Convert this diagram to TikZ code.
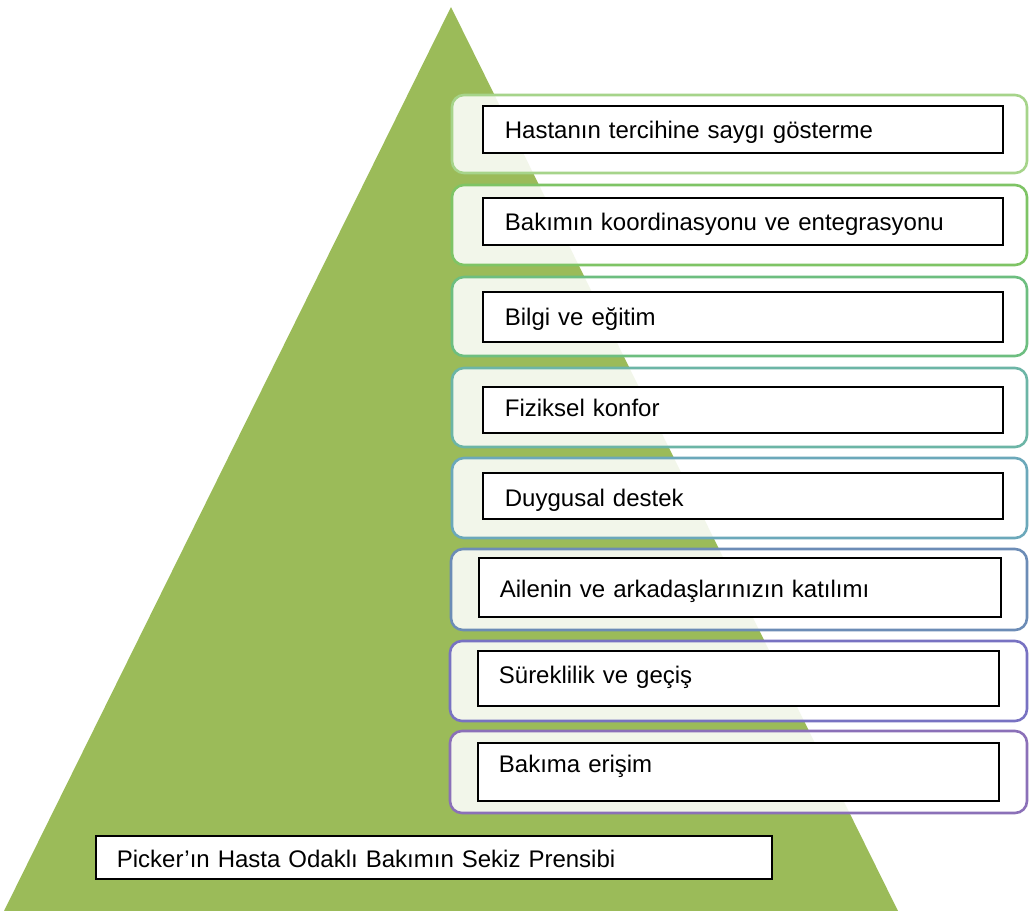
\documentclass[tikz,border=0pt]{standalone}
\usepackage{fontspec}
\setmainfont{Liberation Sans}
\begin{document}
\begin{tikzpicture}[x=1pt,y=-1pt,
  tri/.style={fill=trigreen, draw=none},
  outerbox/.style={rounded corners=12pt, line width=2.6pt, fill=white, fill opacity=0.88},
  innerbox/.style={draw=black, line width=1.8pt, fill=white, anchor=north west,
    inner ysep=0pt, inner xsep=22pt, text width=476pt, align=left,
    font=\fontsize{24}{28}\selectfont, text height=33pt, text depth=14pt},
]
\definecolor{trigreen}{HTML}{9BBB59}
\definecolor{c1}{HTML}{A6D48A}
\definecolor{c2}{HTML}{7EC465}
\definecolor{c3}{HTML}{6DBE80}
\definecolor{c4}{HTML}{6CB5A6}
\definecolor{c5}{HTML}{6BA8BA}
\definecolor{c6}{HTML}{6C8CB6}
\definecolor{c7}{HTML}{7872C2}
\definecolor{c8}{HTML}{8B70B8}
\useasboundingbox (0,0) rectangle (1029,911);
\fill[white] (0,0) rectangle (1029,911);
% pyramid
\fill[tri] (451,7) -- (898,911) -- (4,911) -- cycle;
% outer rounded boxes
\draw[outerbox, draw=c1] (452,95) rectangle (1027,173);
\draw[outerbox, draw=c2] (452,185) rectangle (1027,265);
\draw[outerbox, draw=c3] (452,277) rectangle (1027,356);
\draw[outerbox, draw=c4] (452,368) rectangle (1027,447);
\draw[outerbox, draw=c5] (452,458) rectangle (1027,538);
\draw[outerbox, draw=c6] (451,549) rectangle (1027,630);
\draw[outerbox, draw=c7] (450,641) rectangle (1027,721);
\draw[outerbox, draw=c8] (450,731) rectangle (1027,813);
% inner boxes
\node[innerbox] (b1) at (482,105) {Hastanın tercihine saygı gösterme};
\node[innerbox] (b2) at (482,197) {Bakımın koordinasyonu ve entegrasyonu};
\node[innerbox, text height=34pt, text depth=16pt] (b3) at (482,291) {Bilgi ve eğitim};
\node[innerbox, text height=30pt, text depth=16pt] (b4) at (482,386) {Fiziksel konfor};
\node[innerbox, text height=34pt, text depth=12pt] (b5) at (482,472) {Duygusal destek};
\node[innerbox, inner xsep=21pt, text width=480pt, text height=40pt, text depth=19pt] (b6) at (478,557) {Ailenin ve arkadaşlarınızın katılımı};
\node[innerbox, inner xsep=21pt, text width=479pt, text height=33pt, text depth=22pt] (b7) at (477,650) {Süreklilik ve geçiş};
\node[innerbox, inner xsep=21pt, text width=479pt, text height=30pt, text depth=28pt] (b8) at (477,742) {Bakıma erişim};
% title box
\node[innerbox, inner xsep=21pt, text width=634pt, text height=32pt, text depth=11pt] (title) at (95,835) {Picker’ın Hasta Odaklı Bakımın Sekiz Prensibi};
\end{tikzpicture}
\end{document}
